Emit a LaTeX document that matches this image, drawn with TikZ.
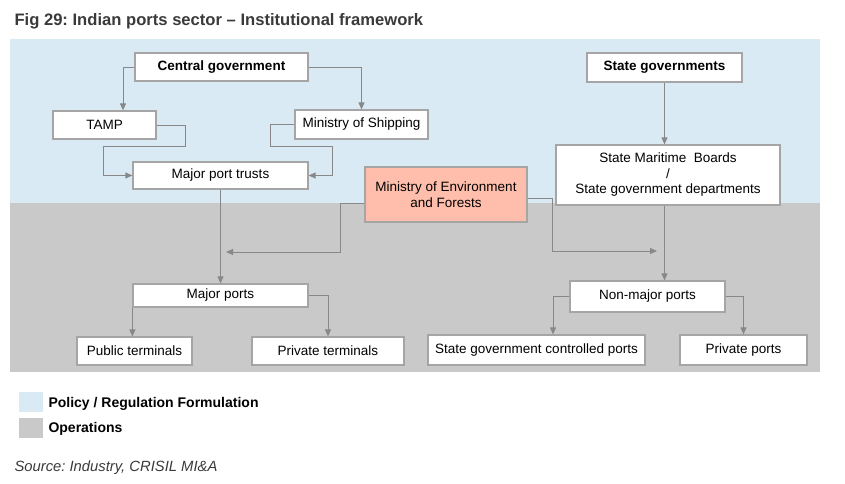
\documentclass[tikz,border=0pt]{standalone}
\usepackage{fontspec}
\setmainfont{Liberation Sans}
\usetikzlibrary{arrows.meta}
\frenchspacing
\definecolor{policy}{HTML}{DAEAF4}
\definecolor{oper}{HTML}{C9C9C9}
\definecolor{boxline}{HTML}{A5A5A5}
\definecolor{arrline}{HTML}{888888}
\definecolor{envfill}{HTML}{FFBEAB}
\definecolor{titlegray}{HTML}{3A3A3A}
\tikzset{
  box/.style={draw=boxline, line width=1.2pt, fill=white, inner sep=0pt, align=center,
    font=\fontsize{13.5}{15.5}\selectfont},
  arr/.style={draw=arrline, line width=1pt, -{Triangle[length=7pt,width=6pt]}},
}
\begin{document}
\begin{tikzpicture}[x=1pt,y=-1pt]
				\useasboundingbox (0,0) rectangle (845,483);
				\fill[policy] (10,39) rectangle (820,203);
				\fill[oper] (10,203) rectangle (820,372);
				\node[anchor=base west, text=titlegray, font=\fontsize{16.6}{19}\selectfont\bfseries] (title) at (11,25) {Fig 29: Indian ports sector -- Institutional framework};
				% policy level
				\node[box, minimum width=173pt, minimum height=28pt, font=\fontsize{13.5}{15.5}\selectfont\bfseries] (cg) at (221.5,67) {Central government};
				\node[box, minimum width=103pt, minimum height=28pt] (tamp) at (104.5,125) {TAMP};
				\node[box, minimum width=133pt, minimum height=29pt] (mos) at (361.5,124.5) {Ministry of Shipping};
				\node[box, minimum width=175pt, minimum height=27pt] (mpt) at (220.5,175.5) {Major port trusts};
				\node[box, fill=envfill, minimum width=162pt, minimum height=55pt] (moef) at (446,194.5) {Ministry of Environment\\and Forests};
				\node[box, minimum width=155pt, minimum height=29pt, font=\fontsize{13.5}{15.5}\selectfont\bfseries] (sg) at (664.5,67.5) {State governments};
				\node[box, minimum width=224pt, minimum height=60pt] (smb) at (668,175) {State Maritime\ \ Boards\\/\\State government departments};
				% operations level
				\node[box, minimum width=175pt, minimum height=23pt] (mp) at (220.5,295.5) {Major ports};
				\node[box, minimum width=115pt, minimum height=28pt] (pubt) at (134.5,351) {Public terminals};
				\node[box, minimum width=152pt, minimum height=28pt] (privt) at (328,351) {Private terminals};
				\node[box, minimum width=155pt, minimum height=31pt] (nmp) at (647.5,296.5) {Non-major ports};
				\node[box, minimum width=217pt, minimum height=30pt] (sgcp) at (536.5,350) {State government controlled ports};
				\node[box, minimum width=127pt, minimum height=30pt] (pp) at (743.5,350) {Private ports};
				\coordinate (envL) at (226,252);
				\coordinate (envR) at (657,251);
				% connectors
				\draw[arr] (cg.west) -| ([xshift=18.5pt]tamp.north);
				\draw[arr] (cg.east) -| (mos.north);
				\draw[arr] (tamp.east) -- ++(29,0) |- (103,146) |- (mpt.west);
				\draw[arr] (mos.west) -- ++(-24,0) |- (332,146) |- (mpt.east);
				\draw[arr] (mpt.south) -- (mp.north);
				\draw[arr] ([yshift=-9pt]moef.west) -- ++(-24,0) |- (envL);
				\draw[arr] ([yshift=-3.5pt]moef.east) -- ++(25,0) |- (envR);
				\draw[arr] (sg.south) -- (sg.south |- smb.north);
				\draw[arr] (sg.south |- smb.south) -- (sg.south |- nmp.north);
				\draw[arr] (mp.south west) -- (mp.south west |- pubt.north);
				\draw[arr] (mp.east) -| (privt.north);
				\draw[arr] (nmp.west) -| ([xshift=16.5pt]sgcp.north);
				\draw[arr] (nmp.east) -| (pp.north);
				% legend
				\fill[policy] (19,392) rectangle (43,412);
				\fill[oper] (19,418) rectangle (43,438);
				\node[anchor=base west, font=\fontsize{14}{16}\selectfont\bfseries] (lpol) at (45,407) {Policy / Regulation Formulation};
				\node[anchor=base west, font=\fontsize{14}{16}\selectfont\bfseries] (lops) at (45,432) {Operations};
				\node[anchor=base west, text=titlegray, font=\fontsize{14.8}{17}\selectfont\itshape] (src) at (11,471) {Source: Industry, CRISIL MI\&A};
			\end{tikzpicture}
\end{document}
